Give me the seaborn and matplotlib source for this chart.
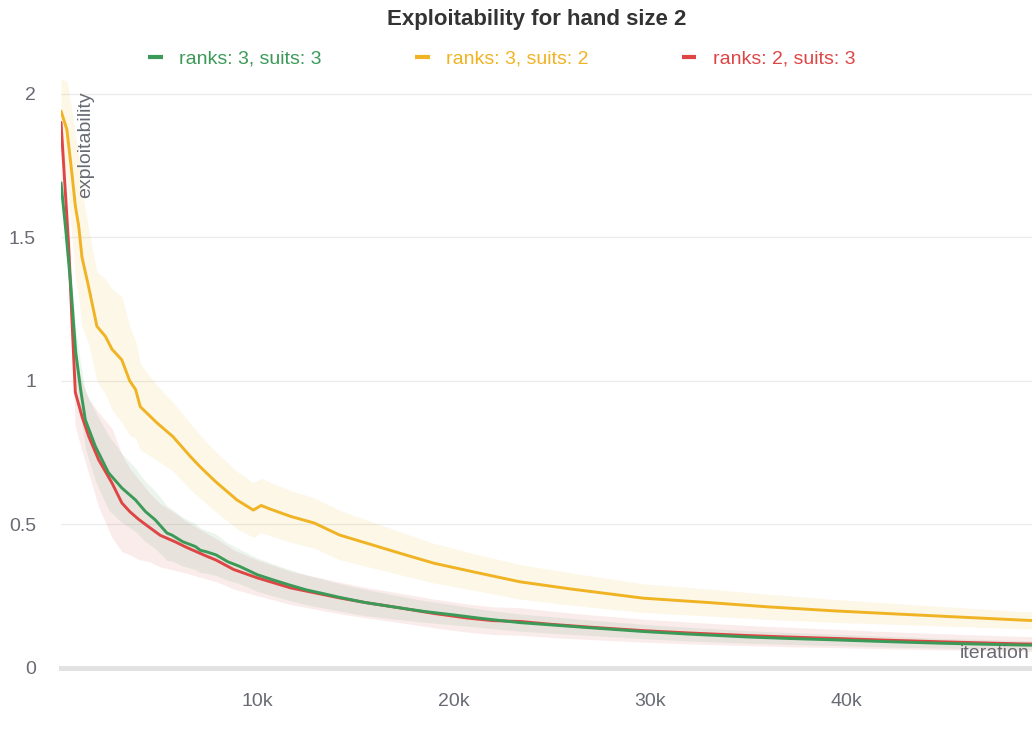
"""Exploitability for hand size 2 — three deck configurations, mean ± spread."""
import numpy as np
import pandas as pd
import matplotlib.pyplot as plt
import matplotlib as mpl
import seaborn as sns
from matplotlib.lines import Line2D
from matplotlib.ticker import FuncFormatter

# --- data --------------------------------------------------------------------
# ranks: 3, suits: 3
it_33 = [0, 250, 500, 750, 1000, 1240, 1750, 2420, 3100, 3800, 4300, 4800, 5400,
         5650, 6200, 6850, 7100, 7400, 7900, 8500, 9100, 10000, 10800, 11600,
         12500, 13300, 14200, 15500, 17300, 18500, 20000, 21500, 23400, 25000,
         27000, 29700, 32000, 35000, 37000, 39400, 42000, 45000, 48900, 50000]
mean_33 = [1.69, 1.52, 1.33, 1.10, 0.97, 0.864, 0.772, 0.68, 0.627, 0.585, 0.545,
           0.516, 0.47, 0.463, 0.44, 0.423, 0.41, 0.405, 0.394, 0.37, 0.354, 0.325,
           0.307, 0.29, 0.272, 0.26, 0.246, 0.228, 0.209, 0.197, 0.185, 0.172,
           0.158, 0.150, 0.140, 0.127, 0.118, 0.108, 0.103, 0.098, 0.092, 0.086,
           0.080, 0.079]
spread_33 = [0.05, 0.06, 0.07, 0.08, 0.09, 0.10, 0.12, 0.13, 0.12, 0.11, 0.105,
             0.10, 0.095, 0.09, 0.085, 0.08, 0.078, 0.075, 0.072, 0.065, 0.06,
             0.058, 0.056, 0.054, 0.052, 0.05, 0.048, 0.046, 0.041, 0.038, 0.035,
             0.032, 0.03, 0.029, 0.027, 0.025, 0.024, 0.022, 0.021, 0.02, 0.019,
             0.017, 0.016, 0.015]

# ranks: 3, suits: 2
it_32 = [0, 300, 560, 730, 900, 1070, 1400, 1830, 2260, 2600, 3100, 3500, 3800,
         4040, 4900, 5700, 6600, 7100, 7860, 8970, 9800, 10200, 10600, 11700,
         12900, 14200, 15900, 17500, 19000, 21000, 23400, 26000, 29700, 33000,
         36000, 39400, 42000, 45000, 48900, 50000]
mean_32 = [1.94, 1.875, 1.72, 1.61, 1.54, 1.43, 1.33, 1.19, 1.155, 1.11, 1.073,
           1.00, 0.97, 0.91, 0.853, 0.806, 0.736, 0.70, 0.65, 0.585, 0.55, 0.566,
           0.555, 0.528, 0.505, 0.463, 0.428, 0.395, 0.365, 0.335, 0.30, 0.275,
           0.243, 0.228, 0.213, 0.199, 0.19, 0.18, 0.167, 0.164]
spread_32 = [0.11, 0.17, 0.22, 0.25, 0.25, 0.24, 0.20, 0.19, 0.20, 0.21, 0.22,
             0.19, 0.17, 0.15, 0.13, 0.12, 0.115, 0.11, 0.105, 0.10, 0.095, 0.095,
             0.093, 0.09, 0.088, 0.086, 0.08, 0.074, 0.069, 0.064, 0.06, 0.056,
             0.05, 0.047, 0.044, 0.04, 0.037, 0.034, 0.03, 0.03]

# ranks: 2, suits: 3
it_23 = [0, 200, 390, 560, 730, 1070, 1410, 1920, 2600, 3100, 3500, 3950, 4500,
         5060, 5800, 6400, 7400, 7900, 8800, 10000, 11700, 14200, 15500, 17300,
         19000, 20700, 22000, 23400, 25000, 27000, 29700, 32000, 35000, 37000,
         39400, 42000, 45000, 48900, 50000]
mean_23 = [1.90, 1.68, 1.47, 1.21, 0.96, 0.876, 0.807, 0.725, 0.644, 0.575, 0.545,
           0.518, 0.49, 0.462, 0.44, 0.42, 0.39, 0.376, 0.343, 0.314, 0.279, 0.244,
           0.228, 0.209, 0.19, 0.174, 0.165, 0.162, 0.152, 0.142, 0.130, 0.122,
           0.113, 0.108, 0.103, 0.097, 0.091, 0.084, 0.083]
spread_23 = [0.05, 0.08, 0.10, 0.11, 0.12, 0.12, 0.13, 0.165, 0.19, 0.17, 0.15,
             0.14, 0.12, 0.11, 0.10, 0.09, 0.08, 0.075, 0.068, 0.062, 0.058, 0.055,
             0.053, 0.051, 0.05, 0.049, 0.048, 0.048, 0.046, 0.043, 0.04, 0.038,
             0.035, 0.034, 0.032, 0.03, 0.028, 0.026, 0.026]

LABELS = ['ranks: 3, suits: 3', 'ranks: 3, suits: 2', 'ranks: 2, suits: 3']
COLORS = {'ranks: 3, suits: 3': '#3b9a58',
          'ranks: 3, suits: 2': '#f0b323',
          'ranks: 2, suits: 3': '#de4545'}
SERIES = {'ranks: 3, suits: 3': (it_33, mean_33, spread_33),
          'ranks: 3, suits: 2': (it_32, mean_32, spread_32),
          'ranks: 2, suits: 3': (it_23, mean_23, spread_23)}

rows = []
for lab, (it, m, s) in SERIES.items():
    for a, b, c in zip(it, m, s):
        rows.append({'iteration': a, 'exploitability': b, 'spread': c, 'config': lab})
df = pd.DataFrame(rows)
df['lo'] = df['exploitability'] - df['spread']
df['hi'] = df['exploitability'] + df['spread']

# --- style --------------------------------------------------------------------
sns.set_theme(style='white')
plt.rcParams['font.family'] = ['Liberation Sans', 'DejaVu Sans']
plt.rcParams['font.size'] = 14
TXT = '#686b73'

fig = plt.figure(figsize=(10.32, 7.53), dpi=100)
ax = fig.add_axes([61 / 1032, 1 - 668 / 753, 971 / 1032, 603 / 753])

# 밴드 먼저 (노랑, 빨강, 초록 순)
draw_order = ['ranks: 3, suits: 2', 'ranks: 2, suits: 3', 'ranks: 3, suits: 3']
band_alpha = {'ranks: 3, suits: 2': 0.10, 'ranks: 2, suits: 3': 0.10,
              'ranks: 3, suits: 3': 0.10}
for lab in draw_order:
    d = df[df['config'] == lab]
    ax.fill_between(d['iteration'], d['lo'], d['hi'], color=COLORS[lab],
                    alpha=band_alpha[lab], lw=0, zorder=1)

sns.lineplot(data=df, x='iteration', y='exploitability', hue='config',
             hue_order=draw_order, palette=COLORS, errorbar=None,
             linewidth=2.1, legend=False, ax=ax, zorder=3)

ax.set_xlim(0, 49480)
ax.set_ylim(0, 2.1)
ax.set_yticks([0, 0.5, 1, 1.5, 2])
ax.set_yticklabels(['0', '0.5', '1', '1.5', '2'])
ax.set_xticks([10000, 20000, 30000, 40000])
ax.xaxis.set_major_formatter(FuncFormatter(lambda v, p: f'{int(v / 1000)}k'))
ax.set_xlabel('')
ax.set_ylabel('')

for side in ['top', 'right', 'left']:
    ax.spines[side].set_visible(False)
ax.spines['bottom'].set_color('#e2e2e2')
ax.spines['bottom'].set_linewidth(3.6)
ax.spines['bottom'].set_zorder(0.5)

ax.grid(axis='y', color='#ebebeb', linewidth=0.9)
ax.grid(axis='x', visible=False)
ax.set_axisbelow(True)

ax.tick_params(axis='y', length=0, pad=18, labelsize=14, labelcolor=TXT)
ax.tick_params(axis='x', direction='inout', length=16, width=1.4,
               color='#e2e2e2', pad=10, labelsize=14, labelcolor=TXT)

ax.text(0.0257, 0.957, 'exploitability', transform=ax.transAxes, rotation=90,
        ha='center', va='top', fontsize=14, color=TXT)
ax.text(0.997, 0.024, 'iteration', transform=ax.transAxes,
        ha='right', va='center', fontsize=14, color=TXT)

fig.text(537 / 1032, 1 - 19 / 753, 'Exploitability for hand size 2',
         ha='center', va='center', fontsize=16, fontweight='bold', color='#333333')

handles = [Line2D([0], [0], color=COLORS[l], lw=3, solid_capstyle='butt')
           for l in LABELS]
leg = fig.legend(handles, LABELS, loc='center left',
                 bbox_to_anchor=(148 / 1032, 1 - 59 / 753), ncol=3, frameon=False,
                 fontsize=14, handlelength=0.75, handletextpad=0.85,
                 columnspacing=4.8, borderpad=0, borderaxespad=0)
for t, l in zip(leg.get_texts(), LABELS):
    t.set_color(COLORS[l])

fig.savefig('out.png', dpi=100)
